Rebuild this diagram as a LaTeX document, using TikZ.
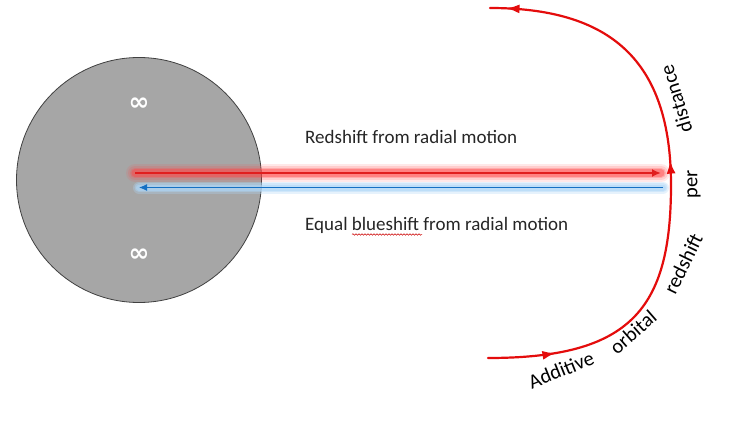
\documentclass[tikz,border=0pt]{standalone}
\usepackage{fontspec}
\setmainfont{Carlito}
\newfontfamily\symfont{DejaVu Sans}
\usetikzlibrary{arrows.meta,decorations.markings,decorations.pathmorphing}
\definecolor{orbred}{RGB}{228,12,12}
\definecolor{glowred}{RGB}{255,70,70}
\definecolor{corered}{RGB}{225,30,30}
\definecolor{coreblue}{RGB}{20,112,196}
\definecolor{glowblue}{RGB}{175,215,248}
\definecolor{diskgray}{RGB}{166,166,166}
\definecolor{txtgray}{RGB}{38,38,38}
\tikzset{
  toptext/.style={anchor=base west, text=txtgray, inner sep=0pt, font=\fontsize{19}{22}\selectfont},
  arclabel/.style={text=black, inner sep=0pt, font=\fontsize{20.5}{24}\selectfont},
  infsym/.style={text=white, inner sep=0pt, font=\symfont\bfseries\fontsize{25}{26}\selectfont},
  orbit/.style={orbred, line width=2.2pt, line cap=round,
    postaction={decorate, decoration={markings,
      mark=at position 0.115 with {\arrow{Latex[length=13pt,width=9pt]}},
      mark=at position 0.545 with {\arrow{Latex[length=13pt,width=9pt]}},
      mark=at position 0.972 with {\arrow{Latex[length=13pt,width=9pt]}}}}}
}
\begin{document}
\begin{tikzpicture}[x=1pt,y=-1pt]
\useasboundingbox[fill=white] (0,0) rectangle (731,425);

% disk
\node (disk) [circle, minimum size=245pt, inner sep=0pt, fill=diskgray, draw=black!75, line width=0.8pt] at (139,180) {};
\node[infsym] (inf1) at (139,104) {∞};
\node[infsym] (inf2) at (139,255) {∞};

% red radial arrow with glow
\coordinate (rs) at (135,173);
\coordinate (re) at (661,173);
\foreach \w/\o in {18/0.12,14/0.16,10/0.25,7/0.4}
  \draw[glowred, line width=\w pt, opacity=\o, line cap=round] (rs) -- (re);
\draw[corered, line width=2pt, -{Latex[length=9pt,width=8pt]}] (rs) -- (re);

% blue radial arrow with glow
\coordinate (bs) at (663,187.5);
\coordinate (be) at (139,187.5);
\foreach \w/\o in {12/0.3,9/0.4,6/0.55}
  \draw[glowblue, line width=\w pt, opacity=\o, line cap=round] (bs) -- (be);
\draw[coreblue, line width=1pt, -{Latex[length=8pt,width=7pt]}] (bs) -- (be);

% texts
\node[toptext] (t1) at (305,143) {Redshift from radial motion};
\node[toptext] (t2) at (305,230) {Equal blueshift from radial motion};
\draw[red!80!black, line width=0.5pt, decorate, decoration={snake, amplitude=0.8pt, segment length=3pt}] (352,234.5) -- (422,234.5);

% orbit
\coordinate (o1) at (488,358);
\coordinate (o2) at (671,185);
\coordinate (o3) at (490,8);
\draw[orbit] (o1) .. controls (630,358) and (671,310) .. (o2)
                  .. controls (671,60) and (610,8) .. (o3);

% labels along the orbit
\node[arclabel, rotate=22] (l1) at (561,370) {Additive};
\node[arclabel, rotate=41] (l2) at (633,332) {orbital};
\node[arclabel, rotate=64] (l3) at (683,264) {redshift};
\node[arclabel, rotate=90] (l4) at (694,184) {per};
\node[arclabel, rotate=107] (l5) at (676,99) {distance};
\end{tikzpicture}
\end{document}
